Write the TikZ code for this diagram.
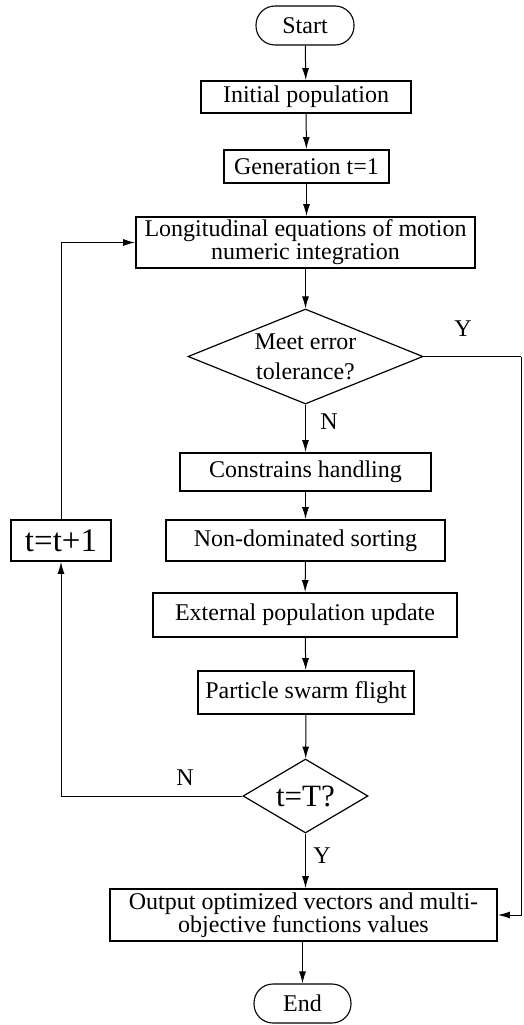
\documentclass[tikz,border=0pt]{standalone}
\usepackage{fontspec}
\setmainfont{Liberation Serif}
\usetikzlibrary{arrows.meta,shapes.geometric}
\begin{document}
\begin{tikzpicture}[x=1pt,y=-1pt,
  every node/.style={font=\fontsize{24}{23}\selectfont},
  box/.style={draw,line width=1.8pt,rectangle,inner sep=0pt,align=center},
  term/.style={draw,line width=1.1pt,rectangle,rounded corners=19pt,inner sep=0pt},
  dec/.style={draw,line width=1.2pt,diamond,inner sep=0pt,align=center},
  conn/.style={line width=1pt},
  arr/.style={conn,-{Latex[length=12pt,width=7pt]}},
  lbl/.style={inner sep=0pt}
]
\useasboundingbox (0,0) rectangle (524,1025);
\node[term,minimum width=98pt,minimum height=39pt] (start) at (305,25.5) {Start};
\node[box,minimum width=210pt,minimum height=32pt] (init) at (306,97) {Initial population};
\node[box,minimum width=165pt,minimum height=33pt] (gen) at (306.5,166.5) {Generation t=1};
\node[box,minimum width=339pt,minimum height=51pt] (long) at (305.5,242.5) {Longitudinal equations of motion\\numeric integration};
\node[dec,minimum width=235pt,minimum height=95pt,aspect=2.47,font=\fontsize{24}{30}\selectfont] (d1) at (305.5,356.5) {Meet error\\tolerance?};
\node[box,minimum width=251pt,minimum height=38pt] (cons) at (305.5,472) {Constrains handling};
\node[box,minimum width=279pt,minimum height=41pt] (nds) at (305.5,540.5) {Non-dominated sorting};
\node[box,minimum width=304pt,minimum height=44pt] (ext) at (305,615) {External population update};
\node[box,minimum width=216pt,minimum height=43pt] (psf) at (306,692.5) {Particle swarm flight};
\node[dec,minimum width=125pt,minimum height=74pt,aspect=1.69,font=\fontsize{31}{31}\selectfont] (d2) at (305.5,796) {t=T?};
\node[box,minimum width=387pt,minimum height=52pt] (out) at (303.5,915) {Output optimized vectors and multi-\\objective functions values};
\node[term,minimum width=97pt,minimum height=39pt] (end) at (302.5,1003.5) {End};
\node[box,minimum width=100pt,minimum height=41pt,font=\fontsize{33}{33}\selectfont] (tt) at (61,540.5) {t=t+1};
\coordinate (rr) at (521,356.5);

\draw[arr] (start) -- (init);
\draw[arr] (init) -- (gen);
\draw[arr] (gen) -- (gen|-long.north);
\draw[arr] (long) -- (d1);
\draw[arr] (d1) -- (cons);
\draw[arr] (cons) -- (nds);
\draw[arr] (nds) -- (ext);
\draw[arr] (ext) -- (psf);
\draw[arr] (psf) -- (d2);
\draw[arr] (d2) -- (d2|-out.north);
\draw[arr] (out.south-|end) -- (end);
\draw[conn] (d1.east) -- (rr);
\draw[arr] (rr) |- (out.east);
\draw[arr] (d2.west) -| (tt.south);
\draw[arr] (tt.north) |- (long.west);

\node[lbl] (y1) at (463,329) {Y};
\node[lbl] (n1) at (329,422) {N};
\node[lbl] (n2) at (185,778) {N};
\node[lbl] (y2) at (322,856) {Y};
\end{tikzpicture}
\end{document}
